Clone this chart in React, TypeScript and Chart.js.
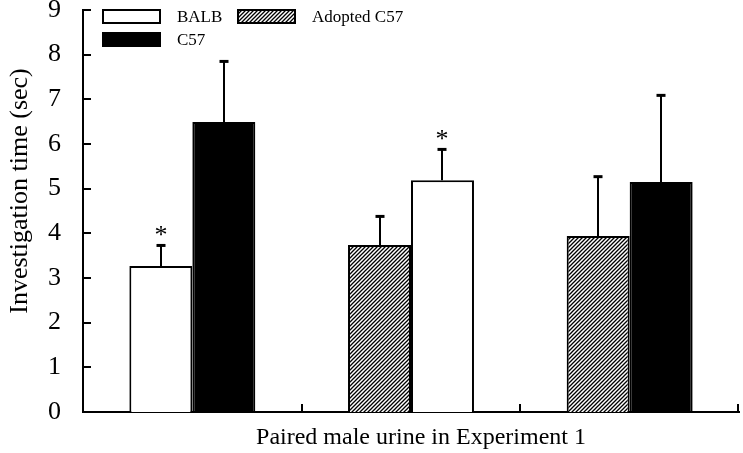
import React, { useEffect, useRef } from 'react';
import { Chart, registerables } from 'chart.js';

Chart.register(...registerables);

// ---- data ----
const categories = ['Pair 1', 'Pair 2', 'Pair 3'];
const seriesNames = ['Adopted C57', 'BALB', 'C57'];
const adoptedValues: (number | null)[] = [null, 3.74, 3.94];
const adoptedErrors: (number | null)[] = [null, 0.65, 1.34];
const balbValues: (number | null)[] = [3.27, 5.19, null];
const balbErrors: (number | null)[] = [0.47, 0.7, null];
const c57Values: (number | null)[] = [6.49, null, 5.15];
const c57Errors: (number | null)[] = [1.37, null, 1.95];
const balbSignificant = [true, true, false];
const yMin = 0;
const yMax = 9;
const yStep = 1;
const yTitle = 'Investigation time (sec)';
const xTitle = 'Paired male urine in Experiment 1';

const SERIF = '"Liberation Serif", "Times New Roman", serif';

function makeHatch(ctx: CanvasRenderingContext2D): CanvasPattern | string {
  const c = document.createElement('canvas');
  c.width = 4;
  c.height = 4;
  const g = c.getContext('2d');
  if (!g) return '#888';
  g.fillStyle = '#ffffff';
  g.fillRect(0, 0, 4, 4);
  g.strokeStyle = '#000000';
  g.lineWidth = 1.3;
  g.beginPath();
  g.moveTo(-1, 5);
  g.lineTo(5, -1);
  g.moveTo(-1, 1);
  g.lineTo(1, -1);
  g.moveTo(3, 5);
  g.lineTo(5, 3);
  g.stroke();
  return ctx.createPattern(c, 'repeat') || '#888';
}

export default function App() {
  const ref = useRef<HTMLCanvasElement | null>(null);

  useEffect(() => {
    const canvas = ref.current;
    if (!canvas) return;
    const ctx0 = canvas.getContext('2d') as CanvasRenderingContext2D;
    const hatch = makeHatch(ctx0);
    const errorsByDataset = [adoptedErrors, balbErrors, c57Errors];

    const decorPlugin = {
      id: 'decor',
      afterDatasetsDraw(chart: any) {
        const ctx = chart.ctx as CanvasRenderingContext2D;
        const ys = chart.scales.y;
        ctx.save();
        ctx.strokeStyle = '#000';
        ctx.fillStyle = '#000';
        chart.data.datasets.forEach((ds: any, i: number) => {
          const meta = chart.getDatasetMeta(i);
          const errs = errorsByDataset[i];
          ds.data.forEach((v: number | null, j: number) => {
            if (v == null || errs[j] == null) return;
            const bar = meta.data[j];
            const x = Math.round(bar.x);
            const yTop = ys.getPixelForValue(v + (errs[j] as number));
            ctx.lineWidth = 2;
            ctx.beginPath();
            ctx.moveTo(x, bar.y);
            ctx.lineTo(x, yTop);
            ctx.stroke();
            ctx.lineWidth = 3;
            ctx.beginPath();
            ctx.moveTo(x - 4.5, yTop + 0.5);
            ctx.lineTo(x + 4.5, yTop + 0.5);
            ctx.stroke();
            if (i === 1 && balbSignificant[j]) {
              ctx.font = `26px ${SERIF}`;
              ctx.textAlign = 'center';
              ctx.textBaseline = 'alphabetic';
              ctx.fillText('*', x, yTop - 2);
            }
          });
        });
        ctx.restore();
      },
      afterDraw(chart: any) {
        const ctx = chart.ctx as CanvasRenderingContext2D;
        const xs = chart.scales.x;
        const ys = chart.scales.y;
        const area = chart.chartArea;
        ctx.save();
        ctx.strokeStyle = '#000';
        ctx.fillStyle = '#000';
        ctx.lineWidth = 2;
        // inward y ticks
        for (let v = yMin; v <= yMax; v += yStep) {
          const py = Math.round(ys.getPixelForValue(v));
          ctx.beginPath();
          ctx.moveTo(area.left, py);
          ctx.lineTo(area.left + 8, py);
          ctx.stroke();
        }
        // inward x ticks at category boundaries
        const bounds: number[] = [];
        for (let i = 0; i < categories.length - 1; i++) {
          bounds.push((xs.getPixelForValue(i) + xs.getPixelForValue(i + 1)) / 2);
        }
        bounds.push(area.right - 1);
        bounds.forEach((bx) => {
          ctx.beginPath();
          ctx.moveTo(Math.round(bx), area.bottom);
          ctx.lineTo(Math.round(bx), area.bottom - 8);
          ctx.stroke();
        });

        // legend
        const boxW = 57;
        const boxH = 13;
        const items = [
          { label: 'BALB', fill: '#ffffff', x: 103, y: 10 },
          { label: 'Adopted C57', fill: hatch, x: 238, y: 10 },
          { label: 'C57', fill: '#000000', x: 103, y: 33 },
        ];
        ctx.font = `17px ${SERIF}`;
        ctx.textAlign = 'left';
        ctx.textBaseline = 'middle';
        items.forEach((it) => {
          ctx.fillStyle = it.fill as any;
          ctx.fillRect(it.x, it.y, boxW, boxH);
          ctx.lineWidth = 2;
          ctx.strokeStyle = '#000';
          ctx.strokeRect(it.x, it.y, boxW, boxH);
          ctx.fillStyle = '#000';
          ctx.fillText(it.label, it.x + boxW + 17, it.y + boxH / 2 + 1);
        });

        // axis titles
        ctx.font = `26px ${SERIF}`;
        ctx.textAlign = 'center';
        ctx.textBaseline = 'middle';
        ctx.save();
        ctx.translate(20, 191);
        ctx.rotate(-Math.PI / 2);
        ctx.fillText(yTitle, 0, 0);
        ctx.restore();
        ctx.font = `24px ${SERIF}`;
        ctx.fillText(xTitle, 421, 438);
        ctx.restore();
      },
    };

    const chart = new Chart(canvas, {
      type: 'bar',
      data: {
        labels: categories,
        datasets: [
          {
            label: seriesNames[0],
            data: adoptedValues,
            backgroundColor: hatch as any,
            borderColor: '#000',
            borderWidth: 2,
          },
          {
            label: seriesNames[1],
            data: balbValues,
            backgroundColor: '#ffffff',
            borderColor: '#000',
            borderWidth: 2,
          },
          {
            label: seriesNames[2],
            data: c57Values,
            backgroundColor: '#000000',
            borderColor: '#000',
            borderWidth: 2,
          },
        ],
      },
      options: {
        responsive: false,
        animation: false,
        maintainAspectRatio: false,
        skipNull: true,
        categoryPercentage: 0.576,
        barPercentage: 1,
        layout: { padding: { left: 0, top: 10, right: 4, bottom: 0 } },
        plugins: {
          legend: { display: false },
          tooltip: { enabled: false },
          title: { display: false },
        },
        scales: {
          x: {
            offset: true,
            grid: { display: false, drawTicks: false },
            border: { display: true, color: '#000', width: 2 },
            ticks: { display: false },
            afterFit(scale: any) {
              scale.height = 41;
              scale.paddingLeft = 0;
              scale.paddingRight = 0;
            },
          },
          y: {
            min: yMin,
            max: yMax,
            grid: { display: false, drawTicks: false },
            border: { display: true, color: '#000', width: 2 },
            ticks: {
              stepSize: yStep,
              padding: 22,
              color: '#000',
              font: { family: SERIF, size: 26 },
            },
            afterFit(scale: any) {
              scale.width = 83;
              scale.paddingTop = 0;
              scale.paddingBottom = 0;
            },
          },
        },
      } as any,
      plugins: [decorPlugin],
    });

    return () => chart.destroy();
  }, []);

  return (
    <div style={{ position: 'absolute', left: 0, top: 0, width: 743, height: 453, background: '#fff' }}>
      <canvas ref={ref} width={743} height={453} style={{ display: 'block', width: 743, height: 453 }} />
    </div>
  );
}
